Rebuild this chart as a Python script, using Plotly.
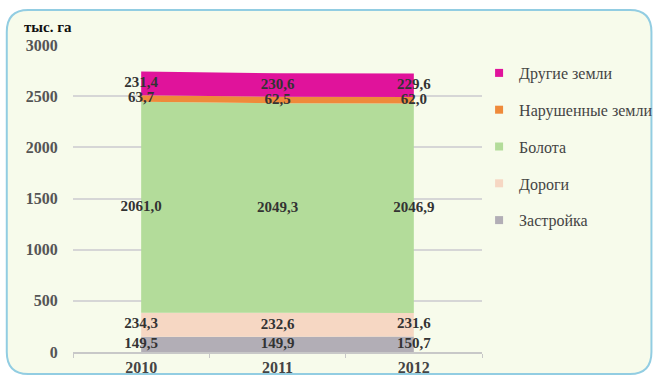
import plotly.graph_objects as go
import numpy as np

years = ["2010", "2011", "2012"]
series_names = ["Застройка", "Дороги", "Болота", "Нарушенные земли", "Другие земли"]
zastroyka = [149.5, 149.9, 150.7]
dorogi = [234.3, 232.6, 231.6]
bolota = [2061.0, 2049.3, 2046.9]
narushennye = [63.7, 62.5, 62.0]
drugie = [231.4, 230.6, 229.6]
y_ticks = [0, 500, 1000, 1500, 2000, 2500, 3000]

series_values = [zastroyka, dorogi, bolota, narushennye, drugie]
colors = ["#b2aeb6", "#f6d7c3", "#b3dc9a", "#ef8a3a", "#e0139b"]
SERIF = "'Liberation Serif', 'Times New Roman', serif"

fig = go.Figure()
for i, (name, vals, col) in enumerate(zip(series_names, series_values, colors)):
    fig.add_trace(go.Scatter(
        x=years, y=vals, name=name, stackgroup="one", mode="none",
        fillcolor=col, showlegend=False, hoverinfo="skip"))

# legend entries (square markers)
for i, (name, col) in enumerate(zip(series_names, colors)):
    fig.add_trace(go.Scatter(
        x=[None], y=[None], name=name, mode="markers",
        marker=dict(symbol="square", size=8, color=col),
        legendgroup=f"g{i}", legendrank=100 - i, showlegend=True))

cum = np.zeros(len(years))
for vals in series_values:
    v = np.array(vals)
    mids = cum + v / 2
    fig.add_trace(go.Scatter(
        x=years, y=mids, mode="text",
        text=[f"{a:.1f}".replace(".", ",") for a in vals],
        textposition="middle center",
        textfont=dict(family=SERIF, size=15, color="#333333", weight="bold"),
        showlegend=False, hoverinfo="skip"))
    cum = cum + v

# plot area in pixels: x 73..493, y 45..352
L, R, T, B = 73, 493, 45, 352
W, H = R - L, B - T
def px(x):
    return (x - L) / W
def py(y):
    return (B - y) / H

x0, x1, y0, y1, r = 5, 667, 10, 374, 22
path = (f"M {px(x0+r)},{py(y0)} L {px(x1-r)},{py(y0)} "
        f"Q {px(x1)},{py(y0)} {px(x1)},{py(y0+r)} "
        f"L {px(x1)},{py(y1-r)} Q {px(x1)},{py(y1)} {px(x1-r)},{py(y1)} "
        f"L {px(x0+r)},{py(y1)} Q {px(x0)},{py(y1)} {px(x0)},{py(y1-r)} "
        f"L {px(x0)},{py(y0+r)} Q {px(x0)},{py(y0)} {px(x0+r)},{py(y0)} Z")

fig.add_shape(type="path", path=path, xref="paper", yref="paper",
              line=dict(color="#92cde2", width=2), fillcolor="#f7fbeb", layer="below")

fig.add_annotation(text="тыс. га", xref="paper", yref="paper",
                   x=px(21), y=py(27), xanchor="left", yanchor="middle",
                   showarrow=False,
                   font=dict(family=SERIF, size=15, color="#111111", weight="bold"))

fig.update_layout(
    width=670, height=376,
    margin=dict(l=L, r=670 - R, t=T, b=376 - B),
    paper_bgcolor="white", plot_bgcolor="rgba(0,0,0,0)",
    showlegend=True,
    legend=dict(x=px(490), y=py(56), xanchor="left", yanchor="top",
                tracegroupgap=13, itemwidth=30,
                bgcolor="rgba(0,0,0,0)",
                font=dict(family=SERIF, size=16, color="#444444")),
    xaxis=dict(type="category", range=[-0.5, 2.5], showgrid=False, automargin=False,
               showline=True, linecolor="#c8c8c8", linewidth=1.5,
               ticks="outside", tickson="boundaries", ticklen=4, tickcolor="#c8c8c8",
               tickfont=dict(family=SERIF, size=16, color="#444444", weight="bold")),
    yaxis=dict(range=[0, 3000], tickvals=y_ticks, showgrid=True, gridcolor="#d6d6d6",
               gridwidth=1.5, zeroline=False, showline=False, automargin=False,
               ticks="outside", ticklen=11, tickcolor="rgba(0,0,0,0)",
               tickfont=dict(family=SERIF, size=16, color="#555555", weight="bold")),
)

fig.write_html("out.html", config={"displayModeBar": False},
               post_script="document.body.style.margin='0';")
